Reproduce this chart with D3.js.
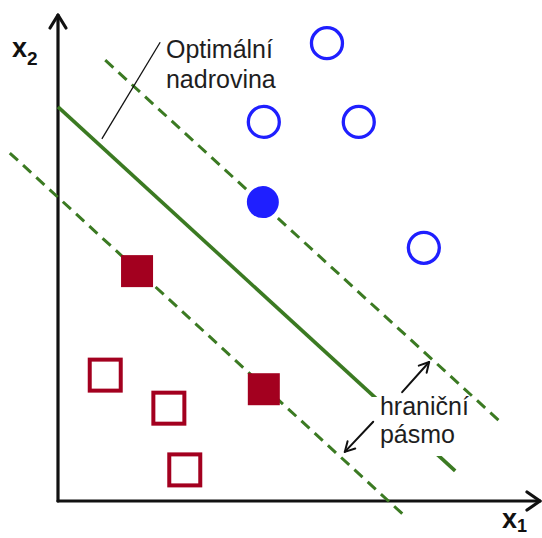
<!DOCTYPE html>
<html>
<head>
<meta charset="utf-8">
<script src="https://cdn.jsdelivr.net/npm/d3@7"></script>
<style>
  html, body { margin: 0; padding: 0; background: #fff; }
  svg { display: block; }
</style>
</head>
<body>
<svg id="chart" width="542" height="538"></svg>
<script>
// Class +1 (blue circles) and class -1 (red squares); filled marks are support vectors
const openCircles   = [[5.58, 9.42], [4.27, 7.80], [6.24, 7.80], [7.59, 5.21]];
const filledCircles = [[4.25, 6.15]];
const filledSquares = [[1.64, 4.73], [4.27, 2.30]];
const openSquares   = [[0.98, 2.59], [2.30, 1.91], [2.63, 0.64]];

// Separating hyperplane and the two margin boundaries
const hyperplane  = [[0.00, 8.11], [8.24, 0.62]];
const marginUpper = [[0.98, 9.07], [9.21, 1.60]];
const marginLower = [[-1.00, 7.16], [7.24, -0.35]];

// Annotation geometry (same units as the data)
const leader     = [[2.12, 9.44], [0.91, 7.45]];
const arrowUp    = [[7.14, 2.24], [7.70, 2.86]];
const arrowDown  = [[6.54, 1.63], [5.95, 1.01]];
const titleLines = ["Optimální", "nadrovina"];
const bandLines  = ["hraniční", "pásmo"];

const GREEN = "#3b7a22", RED = "#a3001f", BLUE = "#1f1fff", INK = "#1e1e1e";

const svg = d3.select("#chart");
const x = d3.scaleLinear().domain([0, 10]).range([58, 540]);
const y = d3.scaleLinear().domain([0, 10]).range([501, 15]);
const line = d3.line().x(d => x(d[0])).y(d => y(d[1]));

// Axes with open arrowheads
const axes = svg.append("g").attr("stroke", "#111").attr("stroke-width", 3.2)
  .attr("fill", "none").attr("stroke-linecap", "round").attr("stroke-linejoin", "round");
axes.append("path").attr("d", `M${x(0)},${y(0)}V${y(10)}`);
axes.append("path").attr("d", `M${x(0)},${y(0)}H${x(10)}`);
axes.append("path").attr("d", `M${x(0) - 8},${y(10) + 13}L${x(0)},${y(10)}L${x(0) + 8},${y(10) + 13}`);
axes.append("path").attr("d", `M${x(10) - 13},${y(0) - 9}L${x(10)},${y(0)}L${x(10) - 13},${y(0) + 9}`);

// Axis labels
const xl = svg.append("text").attr("x", 502).attr("y", 528)
  .attr("font-family", "Liberation Sans, Arial, sans-serif").attr("font-weight", "bold")
  .attr("font-size", 27).attr("fill", "#111");
xl.append("tspan").text("x");
xl.append("tspan").attr("font-size", 18).attr("dy", 4).text("1");
const yl = svg.append("text").attr("x", 12).attr("y", 57)
  .attr("font-family", "Liberation Sans, Arial, sans-serif").attr("font-weight", "bold")
  .attr("font-size", 27).attr("fill", "#111");
yl.append("tspan").text("x");
yl.append("tspan").attr("font-size", 19).attr("dy", 8).text("2");

// Margin boundaries (dashed) and hyperplane (solid)
svg.selectAll("path.margin").data([marginUpper, marginLower]).join("path")
  .attr("class", "margin").attr("d", line)
  .attr("stroke", GREEN).attr("stroke-width", 3).attr("stroke-dasharray", "11,7").attr("fill", "none");
svg.append("path").attr("d", line(hyperplane))
  .attr("stroke", GREEN).attr("stroke-width", 3.6).attr("fill", "none");

// Leader line to the hyperplane
svg.append("path").attr("d", line(leader)).attr("stroke", "#111").attr("stroke-width", 1.3).attr("fill", "none");

// Class -1
const sq = 31;
svg.selectAll("rect.open").data(openSquares).join("rect").attr("class", "open")
  .attr("x", d => x(d[0]) - sq / 2).attr("y", d => y(d[1]) - sq / 2)
  .attr("width", sq).attr("height", sq)
  .attr("fill", "#fff").attr("stroke", RED).attr("stroke-width", 4);
svg.selectAll("rect.sv").data(filledSquares).join("rect").attr("class", "sv")
  .attr("x", d => x(d[0]) - 16).attr("y", d => y(d[1]) - 16)
  .attr("width", 32).attr("height", 32).attr("fill", RED);

// Class +1
svg.selectAll("circle.open").data(openCircles).join("circle").attr("class", "open")
  .attr("cx", d => x(d[0])).attr("cy", d => y(d[1])).attr("r", 15.5)
  .attr("fill", "#fff").attr("stroke", BLUE).attr("stroke-width", 3.3);
svg.selectAll("circle.sv").data(filledCircles).join("circle").attr("class", "sv")
  .attr("cx", d => x(d[0])).attr("cy", d => y(d[1])).attr("r", 16).attr("fill", BLUE);

// "Optimální nadrovina" label
svg.append("g").selectAll("text").data(titleLines).join("text")
  .attr("x", x(2.24)).attr("y", (d, i) => y(9.12) + i * 30)
  .attr("font-family", "Liberation Sans, Arial, sans-serif").attr("font-size", 25)
  .attr("fill", INK).text(d => d);

// Margin-band label on a white backing
svg.append("rect").attr("x", 372).attr("y", 397).attr("width", 99).attr("height", 59).attr("fill", "#fff");
svg.append("g").selectAll("text").data(bandLines).join("text")
  .attr("x", x(6.68)).attr("y", (d, i) => y(1.77) + i * 28)
  .attr("font-family", "Liberation Sans, Arial, sans-serif").attr("font-size", 25)
  .attr("fill", INK).text(d => d);

// Arrows pointing to both margin boundaries
function arrow(pts) {
  const [a, b] = pts.map(p => [x(p[0]), y(p[1])]);
  const ang = Math.atan2(b[1] - a[1], b[0] - a[0]);
  const L = 11, W = 0.5;
  const p1 = [b[0] - L * Math.cos(ang - W), b[1] - L * Math.sin(ang - W)];
  const p2 = [b[0] - L * Math.cos(ang + W), b[1] - L * Math.sin(ang + W)];
  const g = svg.append("g").attr("stroke", "#111").attr("stroke-width", 2)
    .attr("fill", "none").attr("stroke-linecap", "round").attr("stroke-linejoin", "round");
  g.append("path").attr("d", line(pts));
  g.append("path").attr("d", `M${p1}L${b}L${p2}`);
}
arrow(arrowUp);
arrow(arrowDown);
</script>
</body>
</html>
